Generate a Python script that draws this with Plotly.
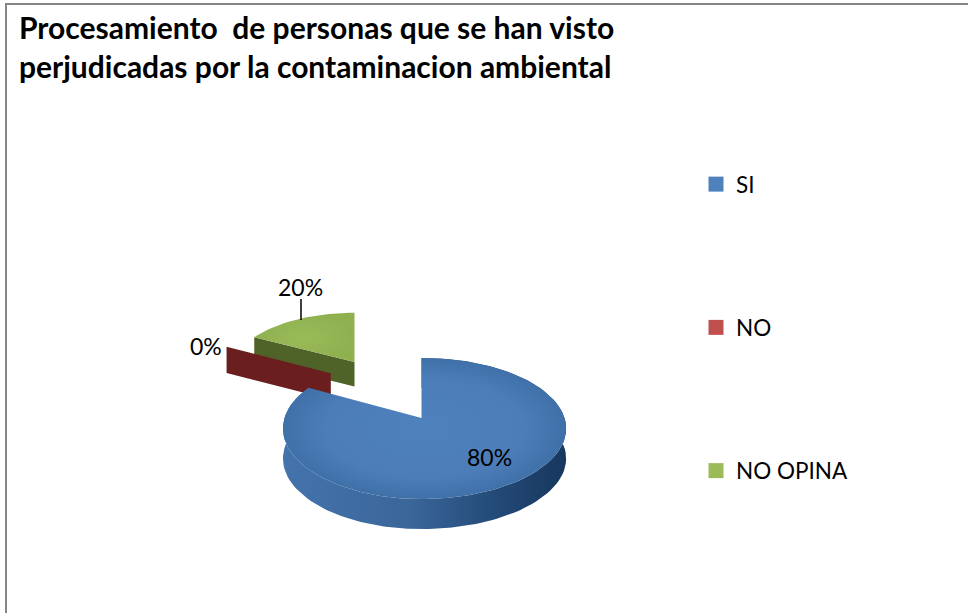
import numpy as np
import plotly.graph_objects as go

categories = ['SI', 'NO', 'NO OPINA']
values = [80, 0, 20]

colors = ['#4F81BD', '#C0504D', '#9BBB59']
wall_colors = ['#2F5583', '#6A1F1E', '#4F6228']

#pie geometry, in pixels of the picture
CENTER_X, CENTER_Y = 388, 390
EXPLODE_X, EXPLODE_Y = 57, 34.6
RADIUS_LEFT, RADIUS_RIGHT, RADIUS_Y = 137, 143, 69
PERSPECTIVE = 0.149
DEPTH = 30
#the NO wall sits a little off the exact explode position
NUDGE = {'SI': (0, 0), 'NO': (-3, -6), 'NO OPINA': (0, 0)}


def slice_origin(name, mid):
    b = np.radians(mid)
    scale_x = 1 - 0.07 * (np.cos(b) + 0.809)
    scale_y = 1 - 0.111 * (np.cos(b) + 0.809)
    ox = CENTER_X + EXPLODE_X * np.sin(b) + NUDGE[name][0]
    oy = CENTER_Y - EXPLODE_Y * np.cos(b) + NUDGE[name][1]
    return ox, oy, scale_x, scale_y


def project(theta, name, mid, drop=0.0):
    # theta in degrees, clockwise from 12 o'clock
    ox, oy, scale_x, scale_y = slice_origin(name, mid)
    t = np.radians(theta)
    t = t - np.radians(17) * np.sin(2 * t)
    u, v = np.sin(t), np.cos(t)
    s = 1 / (1 + PERSPECTIVE * v)
    rx = np.where(u > 0, RADIUS_RIGHT, RADIUS_LEFT)
    return ox + rx * u * s * scale_x, oy - RADIUS_Y * v * s * scale_y + DEPTH * scale_y * drop


def apex(name, mid, drop=0.0):
    ox, oy, scale_x, scale_y = slice_origin(name, mid)
    return ox, oy + DEPTH * scale_y * drop


def add_shape(fig, xs, ys, **kw):
    fig.add_scatter(x=xs, y=ys, mode='lines', fill='toself', line=dict(width=0),
                    hoverinfo='skip', showlegend=False, **kw)


def radial_wall(fig, angle, name, mid, color):
    ax, ay = apex(name, mid)
    bx, by = apex(name, mid, 1)
    rx, ry = project(angle, name, mid)
    qx, qy = project(angle, name, mid, 1)
    add_shape(fig, [ax, float(rx), float(qx), bx], [ay, float(ry), float(qy), by], fillcolor=color)


#angles of the slices
total = sum(values)
starts = {}
ends = {}
mids = {}
a = 0
for name, v in zip(categories, values):
    starts[name] = a
    ends[name] = a + v / total * 360
    mids[name] = (starts[name] + ends[name]) / 2
    a = ends[name]

fig = go.Figure()

#NO OPINA
name = 'NO OPINA'
radial_wall(fig, starts[name], name, mids[name], wall_colors[2])
t = np.linspace(starts[name], ends[name], 40)
px_, py_ = project(t, name, mids[name])
ax, ay = apex(name, mids[name])
add_shape(fig, [ax] + list(px_), [ay] + list(py_), fillcolor=colors[2],
          fillgradient=dict(type='radial', colorscale=[[0, '#9BBB59'], [1, '#8FB04F']]))

#NO (zero width, only the wall shows)
name = 'NO'
radial_wall(fig, starts[name], name, mids[name], wall_colors[1])

#SI
name = 'SI'
t = np.linspace(starts[name], ends[name], 160)
tx, ty = project(t, name, mids[name])
bx, by = project(t, name, mids[name], 1)
add_shape(fig, list(tx) + list(bx[::-1]), list(ty) + list(by[::-1]), fillcolor=wall_colors[0],
          fillgradient=dict(type='horizontal', colorscale=[[0, '#4473AD'], [0.45, '#3A6699'],
                                                           [0.75, '#234A78'], [1, '#17375E']]))
ax, ay = apex(name, mids[name])
add_shape(fig, [ax] + list(tx), [ay] + list(ty), fillcolor=colors[0],
          fillgradient=dict(type='radial', colorscale=[[0, '#4F81BD'], [0.7, '#4C7DB8'], [1, '#4070A8']]))

#legend entries
for name, c in zip(categories, colors):
    fig.add_scatter(x=[None], y=[None], mode='markers', name=name, legendgroup=name,
                    marker=dict(symbol='square', size=15, color=c))

fig.update_layout(
    width=968, height=613,
    margin=dict(l=0, r=0, t=0, b=0),
    paper_bgcolor='white', plot_bgcolor='white',
    font=dict(family='Lato', size=23, color='black'),
    xaxis=dict(range=[0, 968], visible=False, fixedrange=True),
    yaxis=dict(range=[613, 0], visible=False, fixedrange=True),
    title=dict(text='<b>Procesamiento \u00a0de personas que se han visto<br>perjudicadas por la contaminacion ambiental</b>',
               x=19 / 968, xanchor='left', y=1 - 39 / 613, yanchor='top',
               font=dict(family='Lato', size=30, color='black')),
    legend=dict(x=696 / 968, y=1 - 163 / 613, xanchor='left', yanchor='top',
                tracegroupgap=111, bgcolor='rgba(0,0,0,0)', font=dict(family='Lato', size=22.5)),
    shapes=[dict(type='rect', x0=6, y0=4, x1=980, y1=625, line=dict(color='#868686', width=2))],
)

#data labels
fig.add_annotation(x=489, y=457, text=f'{values[0]}%', showarrow=False)
fig.add_annotation(x=206, y=346, text=f'{values[1]}%', showarrow=False)
fig.add_annotation(x=300, y=287, text=f'{values[2]}%', showarrow=False)
fig.add_shape(type='line', x0=301, x1=301, y0=299, y1=320, line=dict(color='black', width=1.5))

fig.write_html("out.html", config=dict(displayModeBar=False),
               post_script="document.body.style.margin='0';")
